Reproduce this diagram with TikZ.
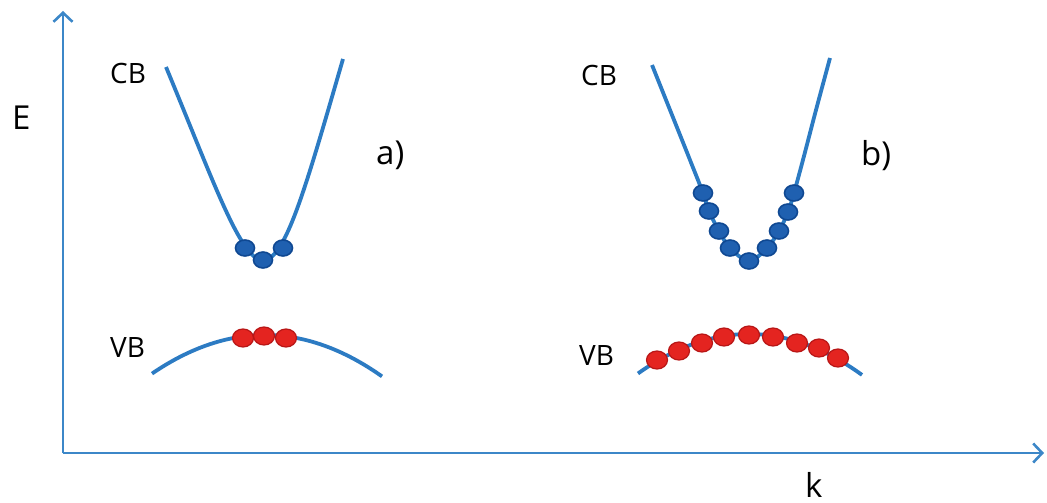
\documentclass[tikz,border=0pt]{standalone}
\usepackage{fontspec}
\setmainfont{Open Sans}
\usetikzlibrary{arrows.meta,shapes.geometric}
\definecolor{axisblue}{HTML}{3C87C8}
\definecolor{bandblue}{HTML}{2C7BC3}
\definecolor{eblue}{HTML}{1F60B0}
\definecolor{eblueedge}{HTML}{0F4892}
\definecolor{hred}{HTML}{E42420}
\definecolor{hrededge}{HTML}{B81616}
\tikzset{
  axisline/.style={draw=axisblue, line width=1.8pt, -{Straight Barb[length=9pt,width=19pt,line width=2.6pt]}},
  band/.style={draw=bandblue, line width=3.8pt},
  bdot/.style={ellipse, fill=eblue, draw=eblueedge, line width=1.6pt, minimum width=19pt, minimum height=16pt, inner sep=0pt},
  rdot/.style={ellipse, fill=hred, draw=hrededge, line width=1.2pt, minimum width=21pt, minimum height=18pt, inner sep=0pt},
  lbl/.style={anchor=base west, inner sep=0pt, font=\fontsize{28}{32}\selectfont},
  axlbl/.style={anchor=base west, inner sep=0pt, font=\fontsize{33}{38}\selectfont},
  panel/.style={anchor=base west, inner sep=0pt, font=\fontsize{33}{38}\selectfont},
}
\begin{document}
\begin{tikzpicture}[x=1pt,y=-1pt]
\useasboundingbox (0,0) rectangle (1047,503);
\fill[white] (0,0) rectangle (1047,503);
% axes
\coordinate (O) at (63,453);
\coordinate (Etop) at (63,11);
\coordinate (Kend) at (1044,453);
\draw[axisline] (O) -- (Etop);
\draw[axisline] (O) -- (Kend);
\node[axlbl] (E) at (12,129) {E};
\node[axlbl] (k) at (805,497) {k};
% panel a
\coordinate (atl) at (166,67);
\coordinate (abot) at (263,261);
\coordinate (atr) at (343,59);
\draw[band] (atl) .. controls (215,185) and (240,258) .. (abot) .. controls (286,258) and (305,190) .. (atr);
\draw[band] plot[domain=-113:117, samples=60] ({265+\x},{335+40*(\x/115)^2});
\node[bdot] (a1) at (245,248) {};
\node[bdot] (a3) at (283,248) {};
\node[bdot] (a2) at (263,260) {};
\node[rdot] (h1) at (243,338) {};
\node[rdot] (h2) at (264,336) {};
\node[rdot] (h3) at (286,338) {};
\node[lbl] (cba) at (110,84) {CB};
\node[lbl] (vba) at (110,357) {VB};
\node[panel] (pa) at (376,164) {a)};
% panel b
\draw[band] plot[smooth, tension=0.55] coordinates {(652,65) (670,110) (688,155) (703,193) (709,211) (719,231) (730,248) (749,261) (767,248) (779,231) (788,212) (794,193) (804,156) (816,110) (830,58)};
\draw[band] plot[domain=-111:113, samples=60] ({749+\x},{334+0.0032*\x*\x});
\node[bdot] (b1) at (703,193) {};
\node[bdot] (b2) at (709,211) {};
\node[bdot] (b3) at (719,231) {};
\node[bdot] (b4) at (730,248) {};
\node[bdot] (b9) at (794,193) {};
\node[bdot] (b8) at (788,212) {};
\node[bdot] (b7) at (779,231) {};
\node[bdot] (b6) at (767,248) {};
\node[bdot] (b5) at (749,261) {};
\node[rdot] (g1) at (657,360) {};
\node[rdot] (g2) at (679,351) {};
\node[rdot] (g3) at (702,343) {};
\node[rdot] (g4) at (724,337) {};
\node[rdot] (g5) at (749,335) {};
\node[rdot] (g6) at (773,337) {};
\node[rdot] (g7) at (797,343) {};
\node[rdot] (g8) at (819,348) {};
\node[rdot] (g9) at (838,358) {};
\node[lbl] (cbb) at (581,85) {CB};
\node[lbl] (vbb) at (579,365) {VB};
\node[panel] (pb) at (861,165) {b)};
\end{tikzpicture}
\end{document}
